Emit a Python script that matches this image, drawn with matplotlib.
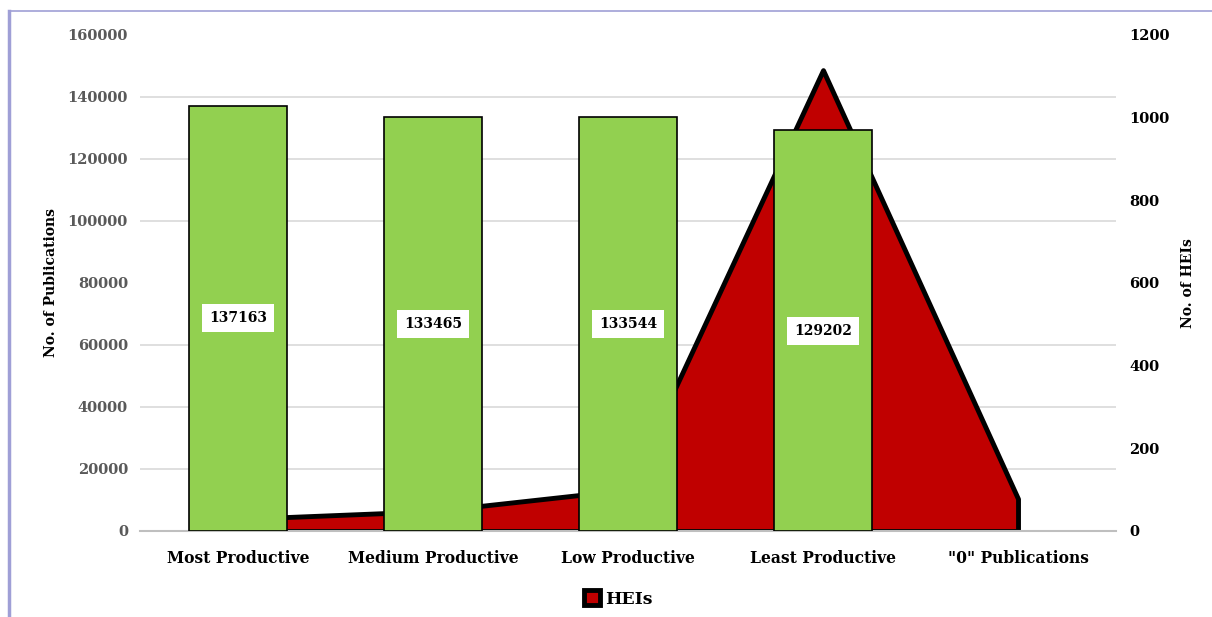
import matplotlib.pyplot as plt
from matplotlib.ticker import MultipleLocator
from matplotlib.lines import Line2D

categories = ["Most Productive", "Medium Productive", "Low Productive",
              "Least Productive", "\"0\" Publications"]
publications = [137163, 133465, 133544, 129202, 0]   # bars, left axis
heis = [29, 48, 100, 1115, 78]                          # area, right axis

plt.rcParams['font.family'] = ['DejaVu Serif']
plt.rcParams['font.weight'] = 'bold'

fig = plt.figure(figsize=(12.12, 6.17), dpi=100)
ax = fig.add_axes([0.1159, 0.1394, 0.8045, 0.8039])
ax2 = ax.twinx()

x = list(range(len(categories)))

# area on the secondary axis (drawn underneath the bars)
area = ax2.fill_between(x, heis, 0, facecolor="#C00000", edgecolor="black",
                        linewidth=3.5, joinstyle="round", label="HEIs", zorder=2)
ax2.set_ylim(0, 1200)
ax2.yaxis.set_major_locator(MultipleLocator(200))
ax2.yaxis.set_minor_locator(MultipleLocator(150))
ax2.grid(which="minor", color="#d9d9d9", linewidth=1.2, zorder=0)
ax2.tick_params(which="both", length=0)
ax2.tick_params(axis="y", labelsize=10.5, labelcolor="black", pad=10)
ax2.set_ylabel("No. of HEIs", fontsize=10, fontweight="bold", labelpad=8)

# bars on primary axis, put on top
ax.set_zorder(ax2.get_zorder() + 1)
ax.patch.set_visible(False)
edges = ["black" if v > 0 else "none" for v in publications]
bars = ax.bar(x, publications, width=0.5, color="#92D050", edgecolor=edges,
              linewidth=1.2, zorder=3)
labels = [str(v) if v > 0 else "" for v in publications]
ax.bar_label(bars, labels=labels, label_type="center", fontsize=10,
             fontweight="bold",
             bbox=dict(facecolor="white", edgecolor="none", pad=5))
ax.set_ylim(0, 160000)
ax.set_xlim(-0.5, len(categories) - 0.5)
ax.yaxis.set_major_locator(MultipleLocator(20000))
ax.set_xticks(x)
ax.set_xticklabels(categories, fontsize=11.2, fontweight="bold")
ax.tick_params(length=0)
ax.tick_params(axis="y", labelsize=10.5, labelcolor="#595959", pad=9)
ax.tick_params(axis="x", pad=14)
ax.set_ylabel("No. of Publications", fontsize=10, fontweight="bold", labelpad=7)

for a in (ax, ax2):
    for s in a.spines.values():
        s.set_visible(False)
ax.spines["bottom"].set_visible(True)
ax.spines["bottom"].set_color("#bfbfbf")
ax.spines["bottom"].set_linewidth(1.5)

fig.legend(handles=[area], labels=["HEIs"], loc="lower center",
           bbox_to_anchor=(0.51, -0.01), frameon=False, fontsize=12.5,
           handlelength=0.9, handleheight=0.9, handletextpad=0.3)

# outer border (left and top)
fig.add_artist(Line2D([0.0078, 0.0078], [0, 0.982], color="#9f9fd6", linewidth=2.5))
fig.add_artist(Line2D([0.0078, 1.0], [0.982, 0.982], color="#9f9fd6", linewidth=1.2))

fig.savefig("out.png", dpi=100)
